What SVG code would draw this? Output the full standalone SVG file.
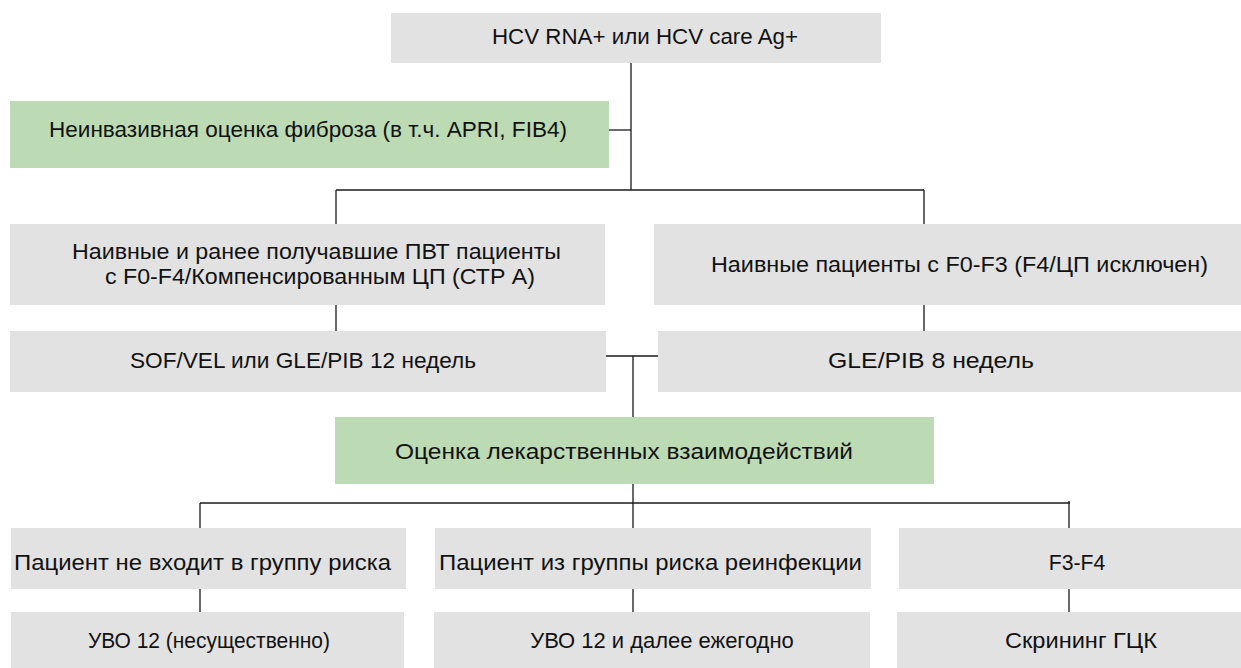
<svg xmlns="http://www.w3.org/2000/svg" width="1241" height="668" viewBox="0 0 1241 668">
<style>
.g{fill:#e2e2e2}
.gr{fill:#bcdab3}
text{font-family:"Liberation Sans",Arial,sans-serif;font-size:22px;fill:#111;text-anchor:middle}
.c line{stroke:#1a1a1a;stroke-width:1.3}
</style>
<rect width="1241" height="668" fill="#fff"/>
<g class="c" id="connectors">
<line x1="631" y1="63" x2="631" y2="190"/>
<line x1="609" y1="130" x2="631" y2="130"/>
<line x1="336" y1="190" x2="924" y2="190"/>
<line x1="336" y1="190" x2="336" y2="224"/>
<line x1="924" y1="190" x2="924" y2="224"/>
<line x1="336" y1="305" x2="336" y2="331"/>
<line x1="924" y1="305" x2="924" y2="331"/>
<line x1="606" y1="356" x2="658" y2="356"/>
<line x1="633" y1="356" x2="633" y2="417"/>
<line x1="633" y1="484" x2="633" y2="528"/>
<line x1="200" y1="503" x2="1070" y2="503"/>
<line x1="200" y1="503" x2="200" y2="528"/>
<line x1="1069" y1="501" x2="1069" y2="528"/>
<line x1="200" y1="589" x2="200" y2="612"/>
<line x1="633" y1="589" x2="633" y2="612"/>
<line x1="1069" y1="589" x2="1069" y2="612"/>
</g>
<g id="n1"><rect class="g" x="391" y="13" width="490" height="50"/><text x="645" y="44" textLength="306" lengthAdjust="spacingAndGlyphs">HCV RNA+ или HCV care Ag+</text></g>
<g id="n2"><rect class="gr" x="10" y="101" width="599" height="67"/><text x="308" y="137" textLength="518" lengthAdjust="spacingAndGlyphs">Неинвазивная оценка фиброза (в т.ч. APRI, FIB4)</text></g>
<g id="n3"><rect class="g" x="10" y="224" width="595" height="81"/><text x="316.5" y="259" textLength="489" lengthAdjust="spacingAndGlyphs">Наивные и ранее получавшие ПВТ пациенты</text><text x="320" y="284" textLength="430" lengthAdjust="spacingAndGlyphs">с F0-F4/Компенсированным ЦП (СТР А)</text></g>
<g id="n4"><rect class="g" x="654" y="224" width="587" height="81"/><text x="959.5" y="272" textLength="497" lengthAdjust="spacingAndGlyphs">Наивные пациенты с F0-F3 (F4/ЦП исключен)</text></g>
<g id="n5"><rect class="g" x="10" y="331" width="596" height="61"/><text x="303" y="368" textLength="346" lengthAdjust="spacingAndGlyphs">SOF/VEL или GLE/PIB 12 недель</text></g>
<g id="n6"><rect class="g" x="658" y="331" width="583" height="61"/><text x="931" y="368" textLength="206" lengthAdjust="spacingAndGlyphs">GLE/PIB 8 недель</text></g>
<g id="n7"><rect class="gr" x="335" y="417" width="599" height="67"/><text x="624" y="459" textLength="458" lengthAdjust="spacingAndGlyphs">Оценка лекарственных взаимодействий</text></g>
<g id="n8"><rect class="g" x="11" y="528" width="395" height="61"/><text x="202.5" y="570" textLength="377" lengthAdjust="spacingAndGlyphs">Пациент не входит в группу риска</text></g>
<g id="n9"><rect class="g" x="435" y="528" width="436" height="61"/><text x="650.5" y="570" textLength="423" lengthAdjust="spacingAndGlyphs">Пациент из группы риска реинфекции</text></g>
<g id="n10"><rect class="g" x="899" y="528" width="342" height="61"/><text x="1077" y="570" textLength="56.5" lengthAdjust="spacingAndGlyphs">F3-F4</text></g>
<g id="n11"><rect class="g" x="11" y="612" width="393" height="56"/><text x="209" y="648" textLength="242" lengthAdjust="spacingAndGlyphs">УВО 12 (несущественно)</text></g>
<g id="n12"><rect class="g" x="434" y="612" width="436" height="56"/><text x="662" y="648" textLength="263.5" lengthAdjust="spacingAndGlyphs">УВО 12 и далее ежегодно</text></g>
<g id="n13"><rect class="g" x="897" y="612" width="344" height="56"/><text x="1081" y="648" textLength="152" lengthAdjust="spacingAndGlyphs">Скрининг ГЦК</text></g>
</svg>
